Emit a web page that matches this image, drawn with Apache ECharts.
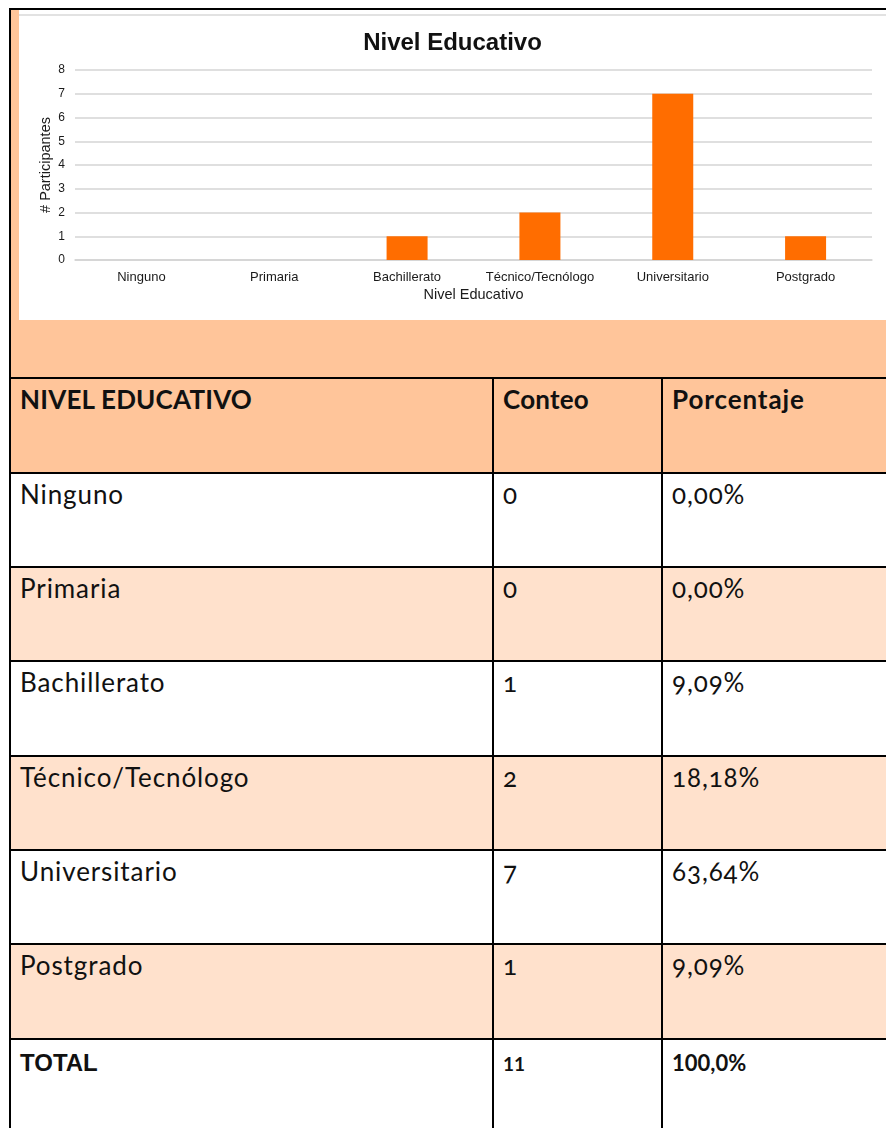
<!DOCTYPE html>
<html>
<head>
<meta charset="utf-8">
<script src="https://cdn.jsdelivr.net/npm/echarts@6/dist/echarts.min.js"></script>
<style>
  html, body { margin:0; padding:0; width:886px; height:1128px; overflow:hidden; background:#ffffff; }
  #page { position:relative; width:886px; height:1128px; overflow:hidden; }
  .abs { position:absolute; }
  .cell { position:absolute; box-sizing:border-box; font-family:Lato, "Open Sans", sans-serif; font-size:26px; line-height:26px; color:#111; padding-left:9px; padding-top:7px; white-space:nowrap; letter-spacing:0.9px; }
  .num { font-feature-settings:"onum" 1; }
</style>
</head>
<body>
<div id="page">
  <div class="abs" style="left:9px;top:8px;width:877px;height:2px;background:#000;"></div>
  <div class="abs" style="left:9px;top:8px;width:2px;height:1120px;background:#000;"></div>
  <div class="abs" style="left:11px;top:10px;width:875px;height:367px;background:#FFC59A;"></div>
  <div class="abs" style="left:19px;top:10px;width:867px;height:4px;background:#ffffff;"></div>
  <div class="abs" style="left:19px;top:14px;width:867px;height:306px;background:#ffffff;border-top:2px solid #e2e2e2;box-sizing:border-box;"></div>
  <div id="chart" class="abs" style="left:19px;top:15px;width:867px;height:305px;"></div>
  <div id="table" class="abs" style="left:0;top:0;width:886px;height:1128px;"></div>
</div>
<script>
const categories = ['Ninguno', 'Primaria', 'Bachillerato', 'Técnico/Tecnólogo', 'Universitario', 'Postgrado'];
const counts = [0, 0, 1, 2, 7, 1];
const percentLabels = ['0,00%', '0,00%', '9,09%', '18,18%', '63,64%', '9,09%'];
const headerLabels = ['NIVEL EDUCATIVO', 'Conteo', 'Porcentaje'];
const totalLabel = 'TOTAL';
const totalCount = '11';
const totalPercent = '100,0%';
const yTicks = [0, 1, 2, 3, 4, 5, 6, 7, 8];

const chart = echarts.init(document.getElementById('chart'), null, {renderer:'canvas'});
chart.setOption({
  animation: false,
  backgroundColor: 'transparent',
  title: {
    text: 'Nivel Educativo',
    left: 'center',
    top: 11,
    textStyle: { fontFamily: 'Liberation Sans, Arial, sans-serif', fontSize: 24, fontWeight: 'bold', color: '#111' }
  },
  grid: { left: 56, right: 14, top: 55, bottom: 60, containLabel: false },
  xAxis: {
    type: 'category',
    data: categories,
    name: 'Nivel Educativo',
    nameLocation: 'middle',
    nameGap: 27,
    nameMoveOverlap: false,
    nameTextStyle: { fontFamily: 'Liberation Sans, Arial, sans-serif', fontSize: 14.5, color: '#1a1a1a' },
    axisLine: { show: true, lineStyle: { color: '#d4d4d4', width: 1.5 } },
    axisTick: { show: false },
    axisLabel: { fontFamily: 'Liberation Sans, Arial, sans-serif', fontSize: 13, color: '#1a1a1a', margin: 11, interval: 0 }
  },
  yAxis: {
    type: 'value',
    min: yTicks[0],
    max: yTicks[yTicks.length - 1],
    interval: 1,
    name: '# Participantes',
    nameLocation: 'middle',
    nameGap: 22,
    nameMoveOverlap: false,
    nameTextStyle: { fontFamily: 'Liberation Sans, Arial, sans-serif', fontSize: 14.5, color: '#1a1a1a' },
    axisLine: { show: false },
    axisTick: { show: false },
    axisLabel: { fontFamily: 'Liberation Sans, Arial, sans-serif', fontSize: 12, color: '#1a1a1a', margin: 10 },
    splitLine: { show: true, lineStyle: { color: '#d4d4d4', width: 1.5 } }
  },
  series: [{
    type: 'bar',
    data: counts,
    barWidth: 41,
    itemStyle: { color: '#FF6D00' }
  }]
});

// Table built from the data arrays
const table = document.getElementById('table');
const rowTops = [377, 472, 566, 660, 755, 849, 943, 1038, 1132];
const colLefts = [9, 492, 661, 1000];
const rowFills = ['#FFC59A', '#ffffff', '#FFE1CC', '#ffffff', '#FFE1CC', '#ffffff', '#FFE1CC', '#ffffff'];
const rows = [headerLabels];
categories.forEach((c, i) => rows.push([c, String(counts[i]), percentLabels[i]]));
rows.push([totalLabel, totalCount, totalPercent]);

rows.forEach((r, i) => {
  const top = rowTops[i], h = rowTops[i + 1] - rowTops[i];
  const bg = document.createElement('div');
  bg.className = 'abs';
  bg.style.cssText = `left:11px;top:${top}px;width:875px;height:${h}px;background:${rowFills[i]};`;
  table.appendChild(bg);
  r.forEach((txt, j) => {
    const d = document.createElement('div');
    d.className = 'cell' + (j > 0 ? ' num' : '');
    d.style.left = (colLefts[j] + 2) + 'px';
    d.style.top = (top + 2) + 'px';
    d.textContent = txt;
    if (i === 0) { d.style.fontWeight = 'bold'; d.style.letterSpacing = (j === 2 ? '0.9px' : '0.2px'); }
    if (i === rows.length - 1) {
      d.style.fontWeight = 'bold';
      d.style.letterSpacing = '0px';
      if (j === 0) { d.style.fontFamily = 'Liberation Sans, Arial, sans-serif'; d.style.fontSize = '24px'; d.style.paddingTop = '10px'; }
      if (j === 1) { d.style.fontSize = '19px'; d.style.paddingTop = '11px'; d.style.fontFeatureSettings = 'normal'; }
      if (j === 2) { d.style.fontSize = '22px'; d.style.paddingTop = '10px'; d.style.fontFeatureSettings = 'normal'; }
    }
    table.appendChild(d);
  });
});
// horizontal lines
rowTops.slice(0, 8).forEach(t => {
  const l = document.createElement('div');
  l.className = 'abs';
  l.style.cssText = `left:9px;top:${t}px;width:877px;height:2px;background:#000;`;
  table.appendChild(l);
});
// vertical lines
[492, 661].forEach(x => {
  const l = document.createElement('div');
  l.className = 'abs';
  l.style.cssText = `left:${x}px;top:377px;width:2px;height:760px;background:#000;`;
  table.appendChild(l);
});
</script>
</body>
</html>
